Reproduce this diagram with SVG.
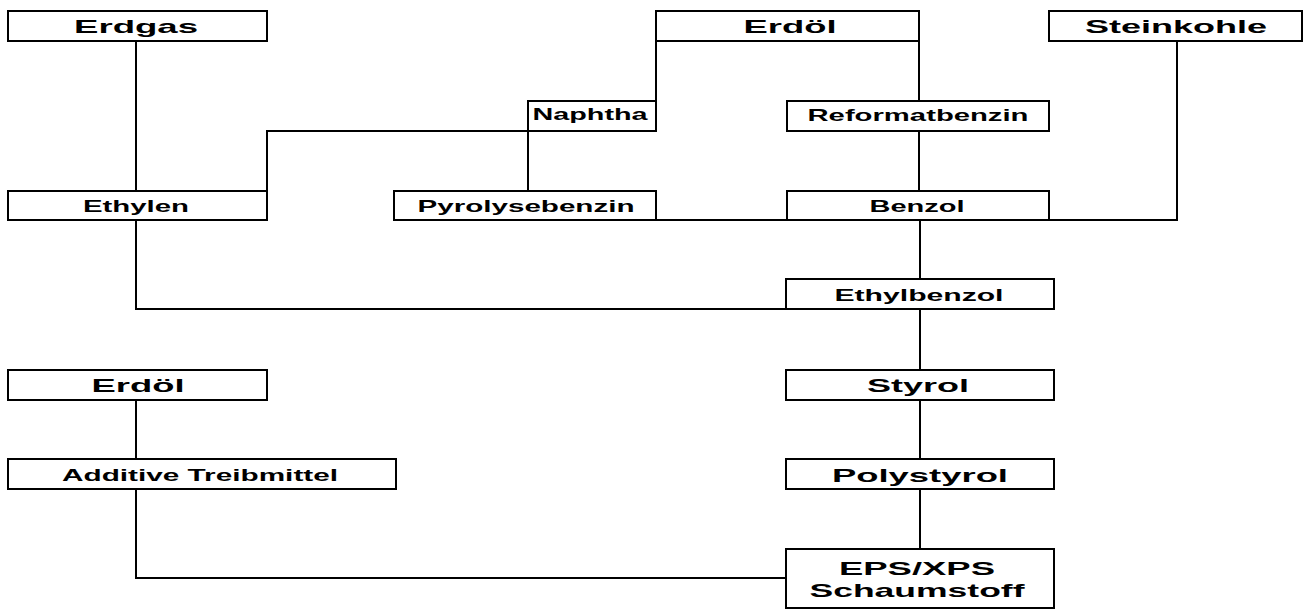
<svg xmlns="http://www.w3.org/2000/svg" width="1309" height="610" viewBox="0 0 1309 610">
<style>
rect{fill:#fff;stroke:#000;stroke-width:2}
.c path{fill:none;stroke:#000;stroke-width:2}
text{font-family:"Liberation Sans",Arial,sans-serif;font-weight:bold;text-anchor:middle;fill:#000}
.l{font-size:19px}
.s{font-size:16.5px}
</style>
<rect width="1309" height="610" style="fill:#fff;stroke:none"/>
<g class="c" id="connectors">
<path d="M136 41V191"/>
<path d="M267 191V131H528"/>
<path d="M528 131V191"/>
<path d="M656 101V11"/>
<path d="M919 41V101"/>
<path d="M919 131V191"/>
<path d="M656 220H787"/>
<path d="M1177 41V220H1049"/>
<path d="M920 220V279"/>
<path d="M136 220V309H786"/>
<path d="M920 309V370"/>
<path d="M920 400V459"/>
<path d="M920 489V549"/>
<path d="M136 400V459"/>
<path d="M136 489V578H786"/>
</g>
<g id="erdgas"><rect x="8" y="11" width="259" height="30"/><text class="l" x="136" y="33" textLength="124" lengthAdjust="spacingAndGlyphs">Erdgas</text></g>
<g id="erdoel1"><rect x="656" y="11" width="263" height="30"/><text class="l" x="790" y="33" textLength="93" lengthAdjust="spacingAndGlyphs">Erdöl</text></g>
<g id="steinkohle"><rect x="1049" y="11" width="253" height="30"/><text class="l" x="1176" y="33" textLength="182" lengthAdjust="spacingAndGlyphs">Steinkohle</text></g>
<g id="naphtha"><rect x="528" y="101" width="128" height="30"/><text class="s" x="590" y="120" textLength="115" lengthAdjust="spacingAndGlyphs">Naphtha</text></g>
<g id="reformatbenzin"><rect x="787" y="101" width="262" height="30"/><text class="s" x="918" y="121" textLength="221" lengthAdjust="spacingAndGlyphs">Reformatbenzin</text></g>
<g id="ethylen"><rect x="8" y="191" width="259" height="29"/><text class="s" x="136" y="212" textLength="106" lengthAdjust="spacingAndGlyphs">Ethylen</text></g>
<g id="pyrolysebenzin"><rect x="394" y="191" width="262" height="29"/><text class="s" x="526" y="212" textLength="217" lengthAdjust="spacingAndGlyphs">Pyrolysebenzin</text></g>
<g id="benzol"><rect x="787" y="191" width="262" height="29"/><text class="s" x="917" y="212" textLength="95" lengthAdjust="spacingAndGlyphs">Benzol</text></g>
<g id="ethylbenzol"><rect x="786" y="279" width="268" height="30"/><text class="s" x="919" y="301" textLength="169" lengthAdjust="spacingAndGlyphs">Ethylbenzol</text></g>
<g id="erdoel2"><rect x="8" y="370" width="259" height="30"/><text class="l" x="138" y="392" textLength="93" lengthAdjust="spacingAndGlyphs">Erdöl</text></g>
<g id="styrol"><rect x="786" y="370" width="268" height="30"/><text class="l" x="918" y="392" textLength="102" lengthAdjust="spacingAndGlyphs">Styrol</text></g>
<g id="additive"><rect x="8" y="459" width="388" height="30"/><text class="s" x="200" y="481" textLength="276" lengthAdjust="spacingAndGlyphs">Additive Treibmittel</text></g>
<g id="polystyrol"><rect x="786" y="459" width="268" height="30"/><text class="l" x="920" y="482" textLength="176" lengthAdjust="spacingAndGlyphs">Polystyrol</text></g>
<g id="eps"><rect x="786" y="549" width="268" height="59"/><text class="l" x="917" y="575" textLength="156" lengthAdjust="spacingAndGlyphs">EPS/XPS</text><text class="l" x="917" y="597" textLength="215" lengthAdjust="spacingAndGlyphs">Schaumstoff</text></g>
</svg>
